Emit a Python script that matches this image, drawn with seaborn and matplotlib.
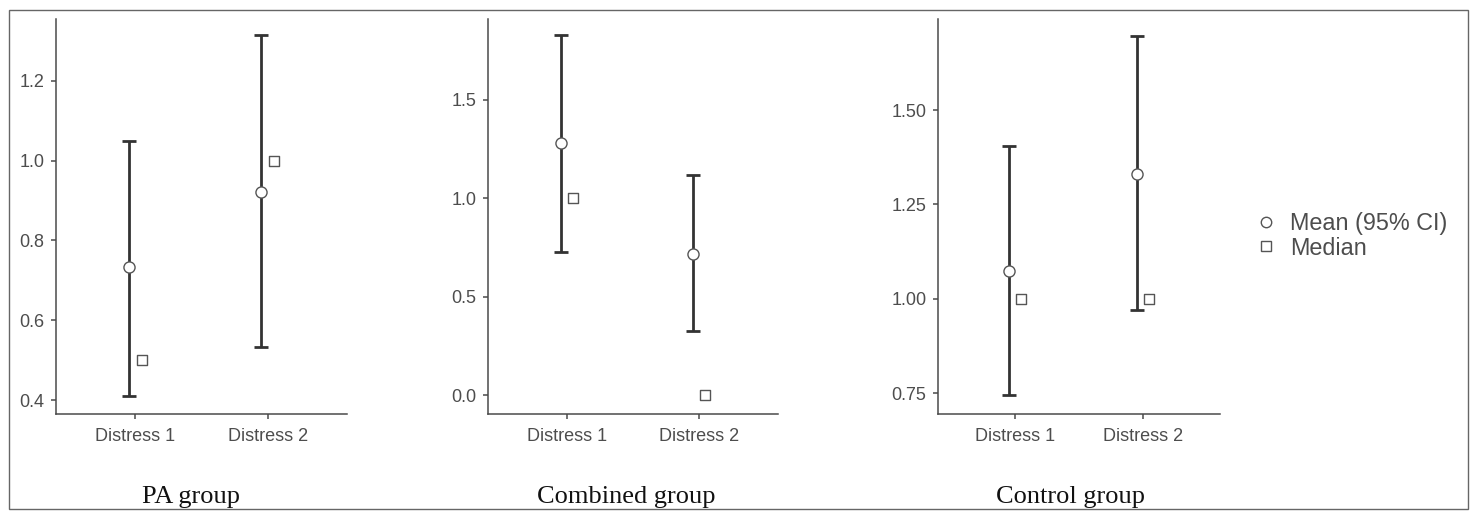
import matplotlib
matplotlib.use("Agg")
import numpy as np
import pandas as pd
import matplotlib.pyplot as plt
import seaborn as sns
from matplotlib.lines import Line2D
from matplotlib.patches import Rectangle

# %% values
groups = ["PA group", "Combined group", "Control group"]
times = ["Distress 1", "Distress 2"]
mean_vals = [[0.733, 0.922], [1.28, 0.72], [1.075, 1.331]]
ci_low = [[0.41, 0.534], [0.73, 0.325], [0.744, 0.971]]
ci_high = [[1.048, 1.314], [1.83, 1.12], [1.405, 1.695]]
median_vals = [[0.5, 1.0], [1.0, 0.0], [1.0, 1.0]]
y_ticks = [[0.4, 0.6, 0.8, 1.0, 1.2], [0.0, 0.5, 1.0, 1.5], [0.75, 1.00, 1.25, 1.50]]
y_fmt = ["{:.1f}", "{:.1f}", "{:.2f}"]

# %% layout
sns.set_style("ticks")
plt.rcParams["font.family"] = ["Liberation Sans", "DejaVu Sans"]

W, H = 1477, 518
fig = plt.figure(figsize=(W / 100, H / 100), dpi=100)

ax_left = [56, 488, 938]
ax_right = [347, 778, 1220]
ax_top, ax_bottom = 19, 414
y_lims = [(0.365, 1.355), (-0.095, 1.911), (0.695, 1.741)]
title_x = [191, 626, 1070]

spine_col = "#4a4a4a"
text_col = "#4d4d4d"
bar_col = "#333333"
dodge = 0.047

for i, grp in enumerate(groups):
    ax = fig.add_axes([ax_left[i] / W, 1 - ax_bottom / H,
                       (ax_right[i] - ax_left[i]) / W, (ax_bottom - ax_top) / H])
    df = pd.DataFrame({
        "time": times,
        "x": np.arange(len(times)),
        "mean": mean_vals[i],
        "lo": ci_low[i],
        "hi": ci_high[i],
        "median": median_vals[i],
    })
    ax.errorbar(df["x"] - dodge, df["mean"],
                yerr=[df["mean"] - df["lo"], df["hi"] - df["mean"]],
                fmt="none", ecolor=bar_col, elinewidth=2.0, capsize=5, capthick=2.0, zorder=2)
    sns.scatterplot(x=df["x"] - dodge, y=df["mean"], marker="o", s=64, color="white",
                    edgecolor="#555555", linewidth=1.0, ax=ax, zorder=3)
    sns.scatterplot(x=df["x"] + dodge, y=df["median"], marker="s", s=48, color="white",
                    edgecolor="#555555", linewidth=1.0, ax=ax, zorder=3)

    ax.set_xlim(-0.6, 1.6)
    ax.set_ylim(*y_lims[i])
    ax.set_xticks(df["x"])
    ax.set_xticklabels(times)
    ax.set_yticks(y_ticks[i])
    ax.set_yticklabels([y_fmt[i].format(v) for v in y_ticks[i]])
    ax.set_xlabel("")
    ax.set_ylabel("")
    sns.despine(ax=ax)
    for s in ["left", "bottom"]:
        ax.spines[s].set_color(spine_col)
        ax.spines[s].set_linewidth(1.1)
    ax.tick_params(axis="both", colors=spine_col, labelcolor=text_col, labelsize=13,
                   length=3.8, width=1.1)
    ax.tick_params(axis="x", pad=6.5)
    ax.tick_params(axis="y", pad=4.5)
    ax.set_facecolor("none")

    fig.text(title_x[i] / W, (H - 503) / H, grp, ha="center", va="baseline",
             fontsize=19, family=["Liberation Serif", "DejaVu Serif"], color="#111111")

handles = [
    Line2D([], [], ls="none", marker="o", ms=7.5, mfc="white", mec="#555555", mew=1.0),
    Line2D([], [], ls="none", marker="s", ms=6.5, mfc="white", mec="#555555", mew=1.0),
]
fig.legend(handles, ["Mean (95% CI)", "Median"], loc="center left",
           bbox_to_anchor=(1255 / W, 1 - 236 / H), frameon=False, fontsize=16.8,
           handlelength=0.9, handletextpad=0.6, labelspacing=0.05,
           borderpad=0, borderaxespad=0, labelcolor=text_col)

fig.patches.append(Rectangle((9 / W, (H - 509) / H), (1468 - 9) / W, (509 - 10) / H,
                             transform=fig.transFigure, fill=False, edgecolor="#666666",
                             linewidth=1.0))

fig.savefig("out.png", dpi=100)
